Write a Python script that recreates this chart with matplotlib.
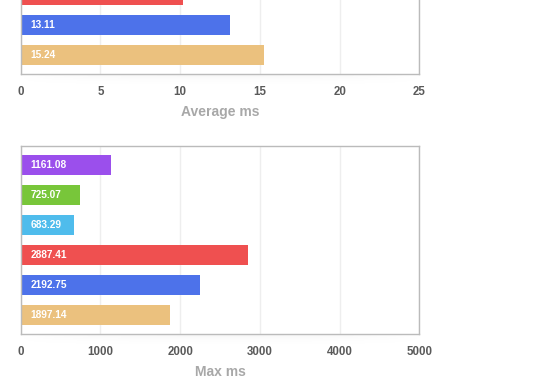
import matplotlib as mpl
mpl.use('agg')
import matplotlib.pyplot as plt
import numpy as np

plt.rcParams['font.family'] = ['Liberation Sans', 'DejaVu Sans']

# bottom-most three series of the "Average ms" panel (the rest is cut off)
avg_colors = ['#ef5050', '#4d72ea', '#ebc17e']
avg_values = [10.18, 13.12, 15.25]
avg_labels = [None, '13.11', '15.24']   # red label lies above the picture
avg_rows = [3, 4, 5]

max_colors = ['#9b4fec', '#78c63a', '#4fbcec', '#ef5050', '#4d72ea', '#ebc17e']
max_values = [1133, 744, 669, 2851, 2249, 1873]
max_labels = ['1161.08', '725.07', '683.29', '2887.41', '2192.75', '1897.14']
max_rows = [0, 1, 2, 3, 4, 5]

fig = plt.figure(figsize=(5.6, 3.9), dpi=100)

# soft shadow strip under a panel frame
yy, xx = np.mgrid[0:1:40j, -1:1:200j]
shade = (1 - yy) ** 2 * np.clip(1 - xx ** 2, 0, 1) ** 0.7

def shadow(left, bottom, width):
    sax = fig.add_axes([left, bottom - 12 / 390, width, 12 / 390], zorder=0)
    sax.imshow(shade, cmap='Greys', vmin=0, vmax=12, aspect='auto',
               extent=[0, 1, 1, 0])
    sax.axis('off')

def panel(rect, rows, values, labels, colors, xmax, xlabel):
    shadow(rect[0], rect[1], rect[2])
    ax = fig.add_axes(rect, zorder=1)
    ax.barh(rows, values, height=0.667, color=colors, zorder=2)
    for r, t in zip(rows, labels):
        if t:
            ax.text(xmax * 0.025, r, t, color='white', fontsize=7.3,
                    fontweight='bold', va='center', ha='left', zorder=3)
    ax.set_xlim(0, xmax)
    ax.set_ylim(5.633, -0.633)
    ax.set_xticks([xmax * i / 5 for i in range(6)])
    ax.set_xticklabels(['%g' % (xmax * i / 5) for i in range(6)])
    ax.set_yticks([])
    ax.grid(axis='x', color='#eeeeee', lw=1, zorder=0)
    for s in ax.spines.values():
        s.set_color('#bbbbbb')
        s.set_linewidth(1)
    ax.tick_params(axis='x', length=0, pad=9, labelsize=8.3, labelcolor='#5a5a5a')
    for lbl in ax.get_xticklabels():
        lbl.set_fontweight('bold')
    ax.set_xlabel(xlabel, fontsize=10, fontweight='bold', color='#a8a8a8', labelpad=5)
    return ax

panel([0.0369, 0.8103, 0.712, 0.482], avg_rows, avg_values, avg_labels,
      avg_colors, 25, 'Average ms')
panel([0.0369, 0.1436, 0.712, 0.482], max_rows, max_values, max_labels,
      max_colors, 5000, 'Max ms')

fig.savefig('out.png', dpi=100)
